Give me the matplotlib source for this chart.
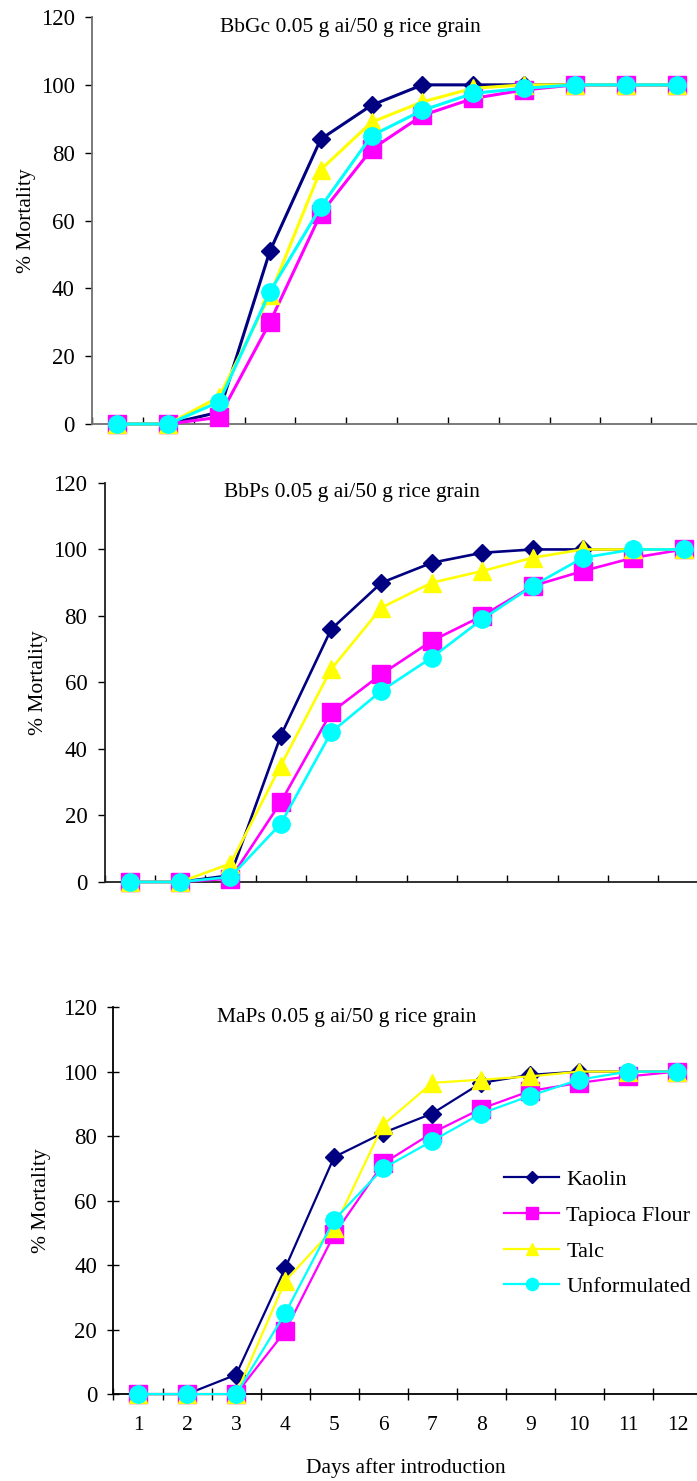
import matplotlib

matplotlib.use("Agg")
import matplotlib.pyplot as plt

plt.rcParams["font.family"] = ["Liberation Serif", "DejaVu Serif"]

# days after introduction (category axis)
days = list(range(1, 13))
day_labels = [str(d) for d in days]

series_names = ["Kaolin", "Tapioca Flour", "Talc", "Unformulated"]

# % mortality, BbGc 0.05 g ai/50 g rice grain
bbgc_kaolin = [0, 0, 3.5, 51, 84, 94, 100, 100, 100, 100, 100, 100]
bbgc_tapioca = [0, 0, 2, 30, 62, 81, 91, 96, 98.5, 100, 100, 100]
bbgc_talc = [0, 0, 8, 38, 75, 89, 95, 99, 100, 100, 100, 100]
bbgc_unform = [0, 0, 6.5, 39, 64, 85, 92.5, 97.5, 99, 100, 100, 100]

# % mortality, BbPs 0.05 g ai/50 g rice grain
bbps_kaolin = [0, 0, 2, 44, 76, 90, 96, 99, 100, 100, 100, 100]
bbps_tapioca = [0, 0, 1, 24, 51, 62.5, 72.5, 80, 89, 93.5, 97.5, 100]
bbps_talc = [0, 0, 5.5, 35, 64, 82.5, 90, 93.5, 97.5, 100, 100, 100]
bbps_unform = [0, 0, 1.5, 17.5, 45, 57.5, 67.5, 79, 89, 97.5, 100, 100]

# % mortality, MaPs 0.05 g ai/50 g rice grain
maps_kaolin = [0, 0, 6, 39, 73.5, 81, 87, 96.5, 99, 100, 100, 100]
maps_tapioca = [0, 0, 0, 19.5, 49.5, 71.5, 81, 88.5, 94, 96.5, 98.5, 100]
maps_talc = [0, 0, 0, 35, 51.5, 83.5, 96.5, 97.5, 98.5, 100, 100, 100]
maps_unform = [0, 0, 0, 25, 54, 70, 78.5, 87, 92.5, 97.5, 100, 100]

colors = ["#000080", "#FF00FF", "#FFFF00", "#00FFFF"]
markers = ["D", "s", "^", "o"]
msizes = [9, 12.5, 12.5, 12.5]

fig = plt.figure(figsize=(6.97, 14.81), dpi=100)

# (title, data, axes rect, title pos, ylabel x, line width, spine colour, tick dir, tick len)
panels = [
    ("BbGc 0.05 g ai/50 g rice grain",
     [bbgc_kaolin, bbgc_tapioca, bbgc_talc, bbgc_unform],
     [0.1320, 0.7137, 0.8752, 0.2748], (0.423, 0.975), -0.108, 2.2, "#707070", ("in", "out"), 5),
    ("BbPs 0.05 g ai/50 g rice grain",
     [bbps_kaolin, bbps_tapioca, bbps_talc, bbps_unform],
     [0.1501, 0.4045, 0.8667, 0.2694], (0.410, 0.975), -0.110, 1.9, "#202020", ("in", "out"), 5),
    ("MaPs 0.05 g ai/50 g rice grain",
     [maps_kaolin, maps_tapioca, maps_talc, maps_unform],
     [0.1628, 0.0587, 0.8443, 0.2613], (0.397, 0.972), -0.123, 1.6, "black", ("inout", "inout"), 8.5),
]

axes = []
for title, data, rect, tpos, ylx, lw, spc, tdir, tlen in panels:
    ax = fig.add_axes(rect)
    for name, ys, c, m, ms in zip(series_names, data, colors, markers, msizes):
        ax.plot(days, ys, color=c, linewidth=lw, marker=m, markersize=ms,
                markerfacecolor=c, markeredgecolor=c, label=name, clip_on=False, zorder=3)
    ax.set_xlim(0.5, 12.5)
    ax.set_ylim(0, 120)
    ax.set_yticks(range(0, 121, 20))
    ax.set_xticks([d + 0.5 for d in range(0, 13)])
    ax.set_xticklabels([])
    ax.set_xticks(days, minor=True)
    ax.tick_params(axis="x", which="minor", length=0)
    ax.tick_params(axis="x", which="major", direction=tdir[0], length=tlen, width=1, color="black")
    ax.tick_params(axis="y", direction=tdir[1], length=tlen if tdir[1] == "inout" else 5,
                   width=1, color="black", labelsize=16.5, pad=7.5)
    for s in ["top", "right"]:
        ax.spines[s].set_visible(False)
    for s in ["left", "bottom"]:
        ax.spines[s].set_color(spc)
        ax.spines[s].set_linewidth(1.3)
    ax.set_ylabel("% Mortality", fontsize=15.5, va="center")
    ax.yaxis.set_label_coords(ylx, 0.5)
    ax.text(tpos[0], tpos[1], title, transform=ax.transAxes, ha="center", va="center", fontsize=15.5)
    axes.append(ax)

# day labels only on the bottom panel
ax = axes[-1]
ax.set_xticklabels(day_labels, minor=True, fontsize=15.5)
ax.tick_params(axis="x", which="minor", pad=16)
ax.set_xlabel("Days after introduction", fontsize=15.5, va="center")
ax.xaxis.set_label_coords(0.497, -0.191)

ax.legend(loc="upper left", bbox_to_anchor=(0.6635, 0.58), frameon=False, fontsize=16,
          handlelength=2.5, handletextpad=0.3, labelspacing=0.68, borderpad=0,
          borderaxespad=0, markerscale=0.7)

fig.savefig("out.png", dpi=100)
